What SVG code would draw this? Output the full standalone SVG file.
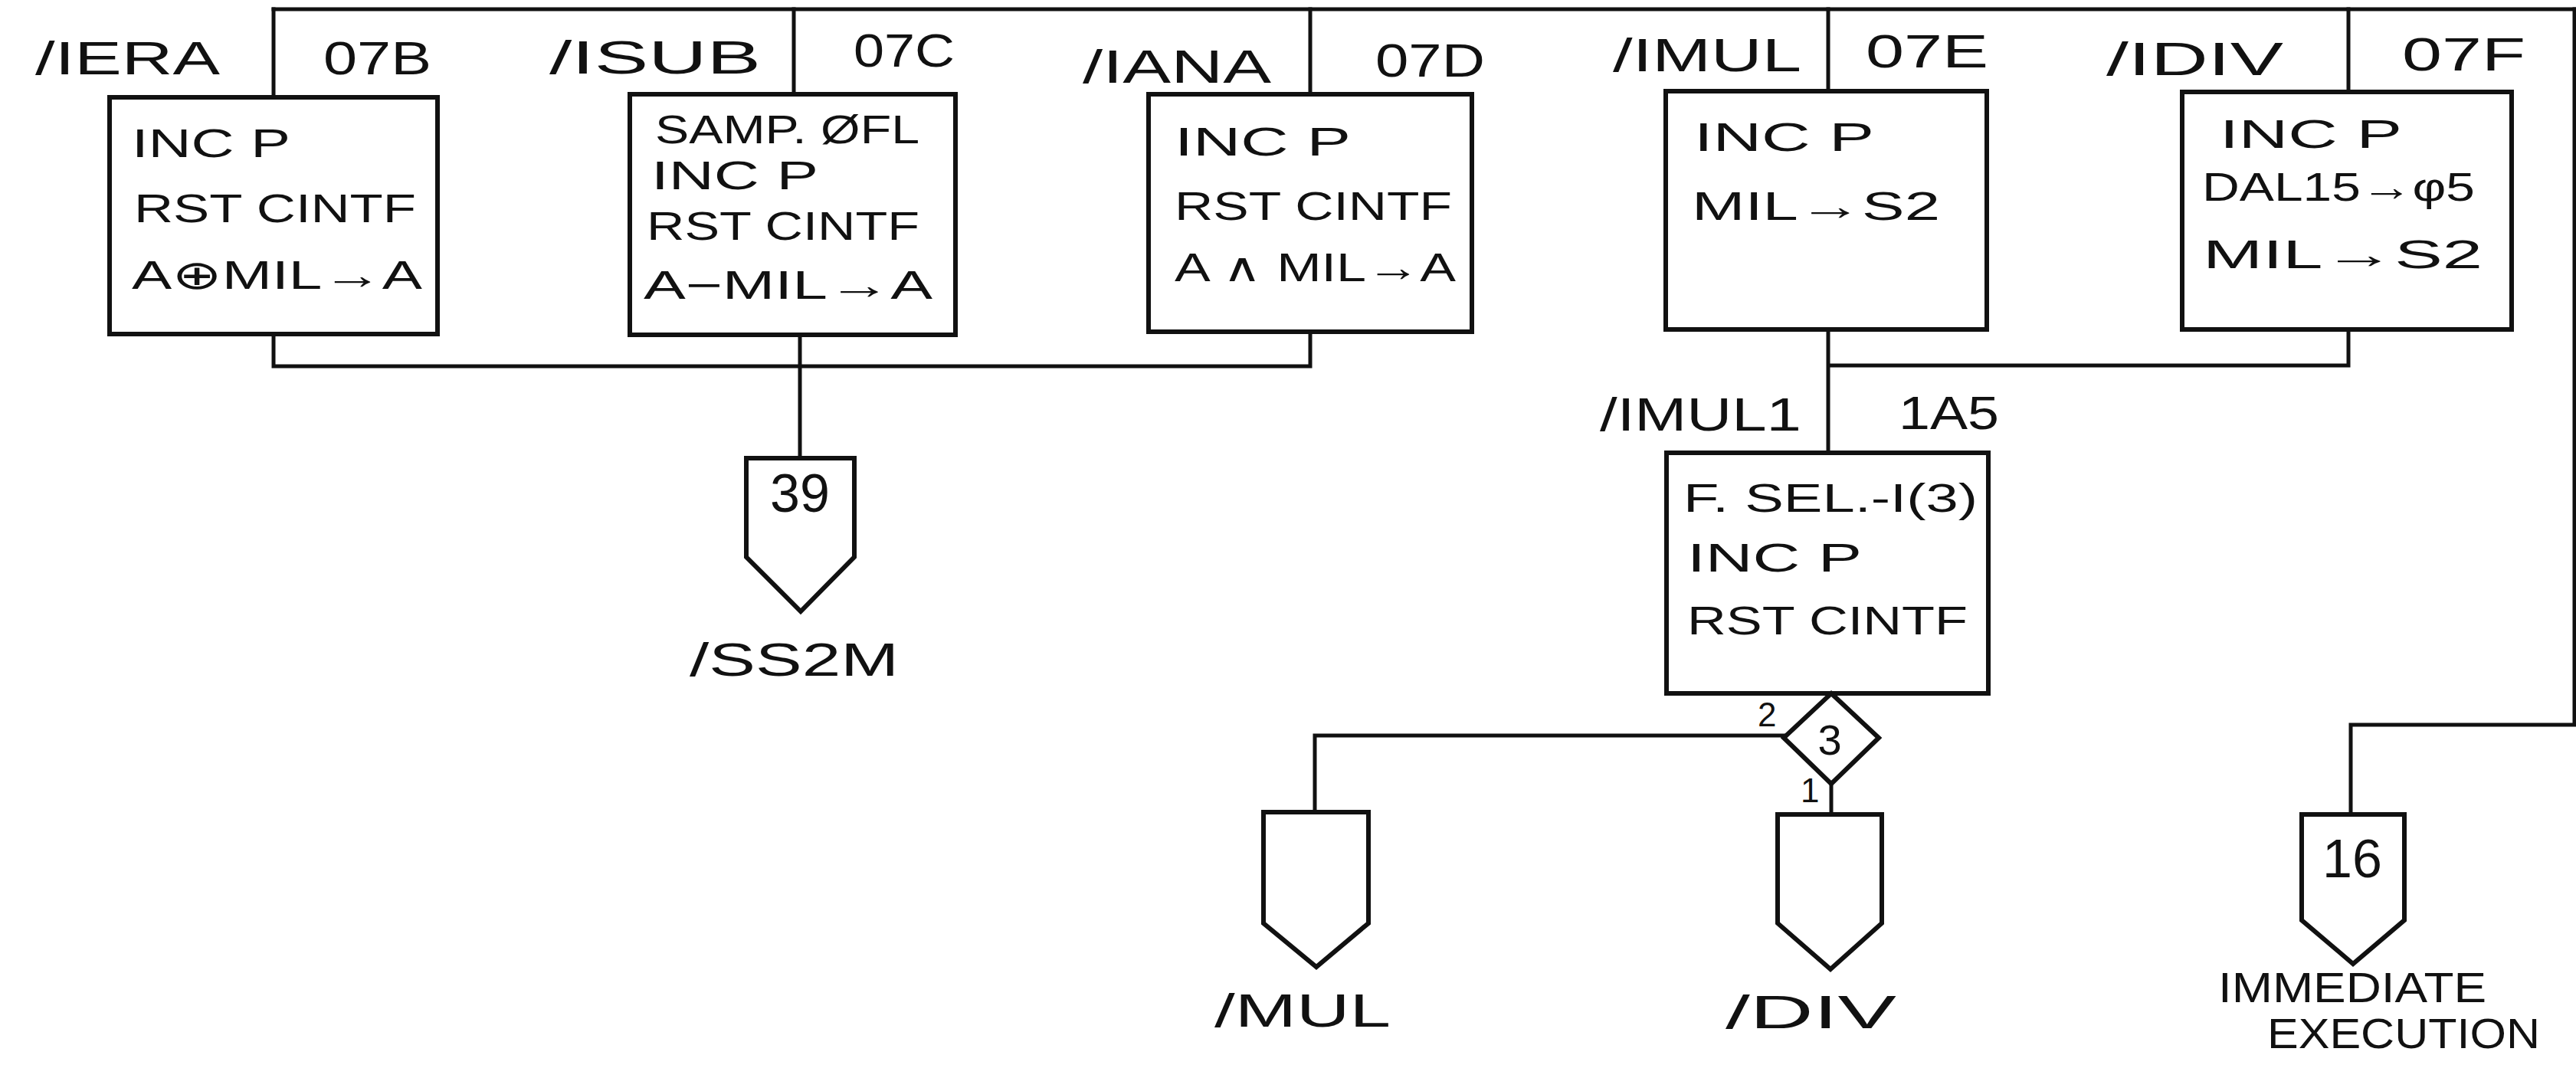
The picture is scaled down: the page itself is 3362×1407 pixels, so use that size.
<svg xmlns="http://www.w3.org/2000/svg" width="3362" height="1407" viewBox="0 0 3362 1407">
<style>
.ln{fill:none;stroke:#111;stroke-width:5;stroke-linecap:square}
.bx{fill:none;stroke:#111;stroke-width:6}
.t{font-family:"Liberation Sans","DejaVu Sans",sans-serif;fill:#111}
.lb{font-size:62px}
.bt{font-size:52px}
.n{font-size:70px;text-anchor:middle}
.s{font-size:44px}
</style>
<rect width="3362" height="1407" fill="#fff"/>
<g id="connectors">
<path class="ln" d="M357 12 H3360"/>
<path class="ln" d="M357 12 V127 M1036 12 V123 M1710 12 V123 M2386 12 V119 M3065 12 V120"/>
<path class="ln" d="M3360 12 V946 H3068 V1063"/>
<path class="ln" d="M357 436 V478 H1710 V433"/>
<path class="ln" d="M1044 437 V598"/>
<path class="ln" d="M2386 430 V591 M2386 477 H3065 V430"/>
<path class="ln" d="M2328 960 H1716 V1060"/>
<path class="ln" d="M2390 1023 V1063"/>
</g>
<g id="n-iera">
<rect class="bx" x="143" y="127" width="428" height="309"/>
<text class="t lb" x="46" y="97" textLength="241" lengthAdjust="spacingAndGlyphs">/IERA</text>
<text class="t lb" x="422" y="97" textLength="141" lengthAdjust="spacingAndGlyphs">07B</text>
<text class="t bt" x="172" y="205" textLength="207" lengthAdjust="spacingAndGlyphs">INC P</text>
<text class="t bt" x="175" y="290" textLength="368" lengthAdjust="spacingAndGlyphs">RST CINTF</text>
<text class="t bt" x="172" y="377" textLength="379" lengthAdjust="spacingAndGlyphs">A⊕MIL→A</text>
</g>
<g id="n-isub">
<rect class="bx" x="822" y="123" width="425" height="314"/>
<text class="t lb" x="717" y="96" textLength="276" lengthAdjust="spacingAndGlyphs">/ISUB</text>
<text class="t lb" x="1114" y="87" textLength="132" lengthAdjust="spacingAndGlyphs">07C</text>
<text class="t bt" x="855" y="187" textLength="345" lengthAdjust="spacingAndGlyphs">SAMP. ØFL</text>
<text class="t bt" x="850" y="247" textLength="218" lengthAdjust="spacingAndGlyphs">INC P</text>
<text class="t bt" x="844" y="313" textLength="356" lengthAdjust="spacingAndGlyphs">RST CINTF</text>
<text class="t bt" x="840" y="390" textLength="377" lengthAdjust="spacingAndGlyphs">A−MIL→A</text>
</g>
<g id="n-iana">
<rect class="bx" x="1499" y="123" width="422" height="310"/>
<text class="t lb" x="1413" y="108" textLength="246" lengthAdjust="spacingAndGlyphs">/IANA</text>
<text class="t lb" x="1795" y="100" textLength="143" lengthAdjust="spacingAndGlyphs">07D</text>
<text class="t bt" x="1533" y="203" textLength="230" lengthAdjust="spacingAndGlyphs">INC P</text>
<text class="t bt" x="1533" y="287" textLength="362" lengthAdjust="spacingAndGlyphs">RST CINTF</text>
<text class="t bt" x="1533" y="367" textLength="367" lengthAdjust="spacingAndGlyphs">A ∧ MIL→A</text>
</g>
<g id="n-imul">
<rect class="bx" x="2174" y="119" width="419" height="311"/>
<text class="t lb" x="2105" y="93" textLength="246" lengthAdjust="spacingAndGlyphs">/IMUL</text>
<text class="t lb" x="2435" y="88" textLength="160" lengthAdjust="spacingAndGlyphs">07E</text>
<text class="t bt" x="2211" y="197" textLength="235" lengthAdjust="spacingAndGlyphs">INC P</text>
<text class="t bt" x="2208" y="287" textLength="324" lengthAdjust="spacingAndGlyphs">MIL→S2</text>
</g>
<g id="n-idiv">
<rect class="bx" x="2848" y="120" width="430" height="310"/>
<text class="t lb" x="2749" y="98" textLength="231" lengthAdjust="spacingAndGlyphs">/IDIV</text>
<text class="t lb" x="3135" y="92" textLength="161" lengthAdjust="spacingAndGlyphs">07F</text>
<text class="t bt" x="2897" y="193" textLength="238" lengthAdjust="spacingAndGlyphs">INC P</text>
<text class="t bt" x="2874" y="262" textLength="356" lengthAdjust="spacingAndGlyphs">DAL15→φ5</text>
<text class="t bt" x="2875" y="350" textLength="365" lengthAdjust="spacingAndGlyphs">MIL→S2</text>
</g>
<g id="n-imul1">
<rect class="bx" x="2175" y="591" width="420" height="314"/>
<text class="t lb" x="2088" y="562" textLength="263" lengthAdjust="spacingAndGlyphs">/IMUL1</text>
<text class="t lb" x="2478" y="560" textLength="131" lengthAdjust="spacingAndGlyphs">1A5</text>
<text class="t bt" x="2197" y="668" textLength="384" lengthAdjust="spacingAndGlyphs">F. SEL.-I(3)</text>
<text class="t bt" x="2202" y="746" textLength="228" lengthAdjust="spacingAndGlyphs">INC P</text>
<text class="t bt" x="2202" y="828" textLength="366" lengthAdjust="spacingAndGlyphs">RST CINTF</text>
</g>
<g id="n-decision">
<path class="bx" d="M2390 905 L2452 963 L2390 1023 L2328 963 Z"/>
<text class="t" x="2388" y="985" font-size="56" text-anchor="middle">3</text>
<text class="t s" x="2294" y="948">2</text>
<text class="t s" x="2350" y="1047">1</text>
</g>
<g id="n-ss2m">
<path class="bx" d="M974 598 H1115 V727 L1045 798 L974 727 Z"/>
<text class="t n" x="1044" y="668">39</text>
<text class="t lb" x="900" y="882" textLength="273" lengthAdjust="spacingAndGlyphs">/SS2M</text>
</g>
<g id="n-mul">
<path class="bx" d="M1649 1060 H1786 V1205 L1718 1262 L1649 1205 Z"/>
<text class="t lb" x="1585" y="1340" textLength="230" lengthAdjust="spacingAndGlyphs">/MUL</text>
</g>
<g id="n-div">
<path class="bx" d="M2320 1063 H2456 V1205 L2389 1265 L2320 1205 Z"/>
<text class="t lb" x="2252" y="1342" textLength="223" lengthAdjust="spacingAndGlyphs">/DIV</text>
</g>
<g id="n-immediate">
<path class="bx" d="M3004 1063 H3138 V1201 L3071 1258 L3004 1201 Z"/>
<text class="t n" x="3070" y="1145">16</text>
<text class="t" x="2895" y="1308" font-size="56" textLength="350" lengthAdjust="spacingAndGlyphs">IMMEDIATE</text>
<text class="t" x="2959" y="1368" font-size="56" textLength="356" lengthAdjust="spacingAndGlyphs">EXECUTION</text>
</g>
</svg>
